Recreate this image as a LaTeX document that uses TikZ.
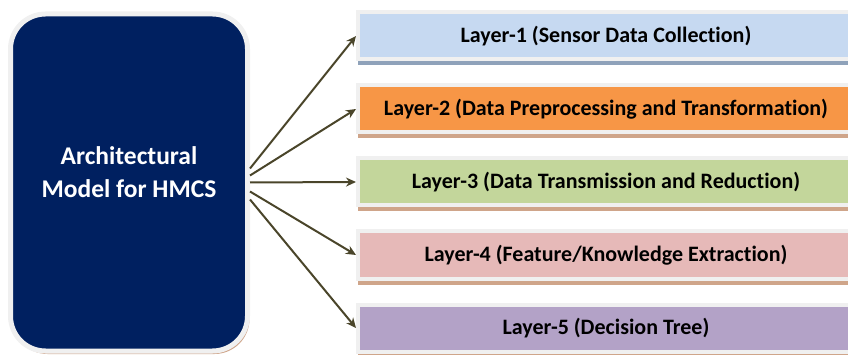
\documentclass[tikz,border=0pt]{standalone}
\usepackage{fontspec}
\setmainfont{Carlito}[Ligatures=NoCommon]
\usetikzlibrary{shadows,arrows.meta}
\definecolor{modelnavy}{HTML}{002060}
\definecolor{edgegray}{HTML}{F0F0F0}
\definecolor{shadowtan}{HTML}{CFA58A}
\definecolor{shadowslate}{HTML}{8FA2BA}
\definecolor{arrowolive}{HTML}{4A452A}
\definecolor{layerblue}{HTML}{C6D9F1}
\definecolor{layerorange}{HTML}{F79646}
\definecolor{layergreen}{HTML}{C3D69B}
\definecolor{layerred}{HTML}{E6B9B8}
\definecolor{layerpurple}{HTML}{B3A2C7}
\tikzset{
  modelbox/.style={draw=edgegray, line width=5pt, fill=modelnavy, rounded corners=35pt,
    minimum width=237pt, minimum height=337pt, text=white, align=center, text depth=20pt,
    font=\fontsize{25.5}{33}\selectfont\bfseries,
    drop shadow={shadow xshift=2pt, shadow yshift=-3pt, fill=shadowtan, opacity=1}},
  layerbox/.style={draw=edgegray, line width=4pt, minimum width=496pt, minimum height=47pt,
    font=\fontsize{22}{26}\selectfont\bfseries,
    drop shadow={shadow xshift=0pt, shadow yshift=-6pt, fill=#1, opacity=1}},
  connector/.style={draw=arrowolive, line width=2pt, -{Stealth[length=10pt,width=9pt]}}
}

\begin{document}
\begin{tikzpicture}[x=1pt,y=-1pt]
\clip (0,0) rectangle (848,355);
\node[modelbox] (model) at (129,182.5) {Architectural\\Model for HMCS};
\node[layerbox=shadowslate, fill=layerblue] (layer1) at (606,36) {Layer-1 (Sensor Data Collection)};
\node[layerbox=shadowtan, fill=layerorange] (layer2) at (606,109) {Layer-2 (Data Preprocessing and Transformation)};
\node[layerbox=shadowtan, fill=layergreen] (layer3) at (606,182) {Layer-3 (Data Transmission and Reduction)};
\node[layerbox=shadowtan, fill=layerred] (layer4) at (606,255) {Layer-4 (Feature/Knowledge Extraction)};
\node[layerbox=shadowtan, fill=layerpurple] (layer5) at (606,328) {Layer-5 (Decision Tree)};
% arrows from the model to each layer
\draw[connector] ([yshift=14pt]model.east) -- (layer1.west);
\draw[connector] ([yshift=7pt]model.east) -- (layer2.west);
\draw[connector] (model.east) -- (layer3.west);
\draw[connector] ([yshift=-9pt]model.east) -- (layer4.west);
\draw[connector] ([yshift=-17pt]model.east) -- (layer5.west);
\end{tikzpicture}
\end{document}
